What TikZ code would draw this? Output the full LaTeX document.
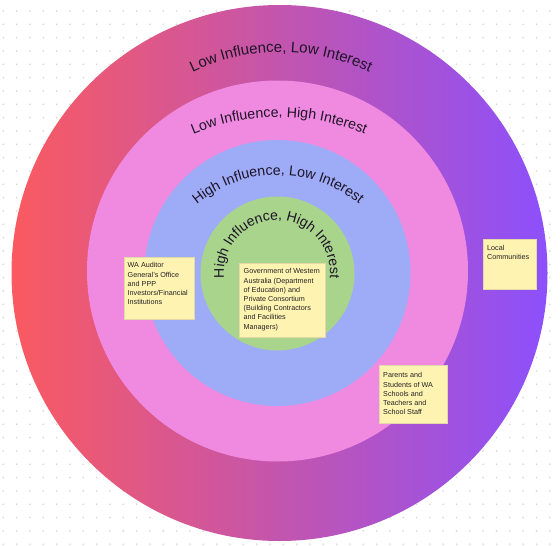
\documentclass[tikz,border=0pt]{standalone}
\usepackage{fontspec}
\setmainfont{Liberation Sans}
\usetikzlibrary{decorations.text}
\definecolor{dotc}{HTML}{D6D6D6}
\definecolor{outerL}{HTML}{FA5A60}
\definecolor{outerR}{HTML}{8C50FB}
\definecolor{pinkc}{HTML}{F08AE0}
\definecolor{bluec}{HTML}{9EACF8}
\definecolor{greenc}{HTML}{A8D48C}
\definecolor{notefill}{HTML}{FFF3B2}
\definecolor{noteedge}{HTML}{E2D9A6}
\definecolor{lbl}{HTML}{1E1428}
\definecolor{notetxt}{HTML}{222222}
\newcommand{\lblfont}{\fontsize{15}{18}\selectfont\color{lbl}}
\newcommand{\lblfontmid}{\fontsize{14.2}{17}\selectfont\color{lbl}}
\newcommand{\lblfontsmall}{\fontsize{14}{17}\selectfont\color{lbl}}
\tikzset{
  notebox/.style={draw=noteedge, line width=0.6pt, fill=notefill, anchor=north west, inner sep=0pt},
  notetext/.style={anchor=north west, inner sep=0pt, align=left, text=notetxt,
    font=\fontsize{7.2}{9.2}\selectfont},
}
\begin{document}
\begin{tikzpicture}[x=1pt,y=-1pt]
\useasboundingbox (0,0) rectangle (560,546);
\fill[white] (0,0) rectangle (560,546);
% dot grid
\foreach \i in {0,...,41} {
  \foreach \j in {0,...,40} {
    \fill[dotc] (3.3+13.33*\i, 11+13.33*\j) circle (0.9);
  }
}
% rings
\shade[left color=outerL, right color=outerR] (279.5,273) circle (268);
\fill[pinkc] (277.5,271) circle (190.5);
\fill[bluec] (277.5,273) circle (133);
\fill[greenc] (277.5,273.5) circle (77);
% curved labels
\path[decorate, decoration={text along path, text align=center,
  text={|\lblfont|Low Influence, Low Interest}}]
  (281,255) ++(230:203) arc[start angle=230, end angle=310, radius=203];
\path[decorate, decoration={text along path, text align=center,
  text={|\lblfontmid|Low Influence, High Interest}}]
  (279,337) ++(235:220) arc[start angle=235, end angle=305, radius=220];
\path[decorate, decoration={text along path, text align=center,
  text={|\lblfontmid|High Influence, Low Interest}}]
  (278,302) ++(200:127) arc[start angle=200, end angle=340, radius=127];
\path[decorate, decoration={text along path, text align=center,
  text={|\lblfontsmall|High Influence, High Interest}}]
  (277,273) ++(150:53) arc[start angle=150, end angle=390, radius=53];
% notes
\node[notebox, minimum width=70pt, minimum height=62pt] (wabox) at (124,257) {};
\node[notetext] (watext) at (127.5,262.5) {WA Auditor\\General's Office\\and PPP\\Investors/Financial\\Institutions};
\node[notebox, minimum width=86pt, minimum height=74pt] (govbox) at (239,263) {};
\node[notetext] (govtext) at (243.5,268.5) {Government of Western\\Australia (Department\\of Education) and\\Private Consortium\\(Building Contractors\\and Facilities\\Managers)};
\node[notebox, minimum width=68pt, minimum height=58pt] (parbox) at (379,365) {};
\node[notetext] (partext) at (383,372.5) {Parents and\\Students of WA\\Schools and\\Teachers and\\School Staff};
\node[notebox, minimum width=53pt, minimum height=50pt] (locbox) at (483,239) {};
\node[notetext] (loctext) at (487,245) {Local\\Communities};
\end{tikzpicture}
\end{document}
